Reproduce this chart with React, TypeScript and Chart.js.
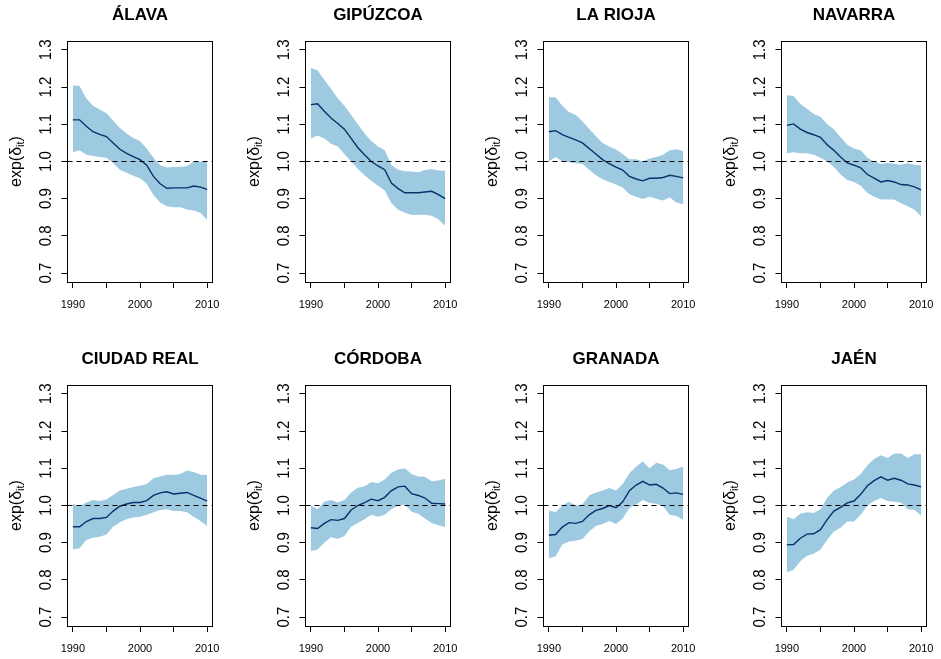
import React, { useEffect, useRef } from 'react';
import { Chart, registerables } from 'chart.js';

Chart.register(...registerables);

// ---------- data ----------
const years = [1990, 1991, 1992, 1993, 1994, 1995, 1996, 1997, 1998, 1999, 2000, 2001, 2002, 2003, 2004, 2005, 2006, 2007, 2008, 2009, 2010];
const xTicks = [1990, 1995, 2000, 2005, 2010];
const xLabelTicks = [1990, 2000, 2010];
const yTicks = [0.7, 0.8, 0.9, 1.0, 1.1, 1.2, 1.3];
const xLimits = [1989.2, 2010.8];
const yLimits = [0.676, 1.324];
const refValue = 1;

const alavaMean = [1.112, 1.112, 1.095, 1.08, 1.073, 1.067, 1.05, 1.033, 1.022, 1.013, 1.005, 0.99, 0.96, 0.94, 0.928, 0.929, 0.929, 0.929, 0.934, 0.931, 0.925];
const alavaHigh = [1.205, 1.203, 1.17, 1.15, 1.14, 1.13, 1.11, 1.09, 1.075, 1.063, 1.055, 1.035, 1.01, 0.99, 0.984, 0.985, 0.986, 0.987, 1.0, 1.0, 0.998];
const alavaLow = [1.025, 1.03, 1.018, 1.015, 1.012, 1.01, 0.995, 0.978, 0.97, 0.962, 0.955, 0.94, 0.91, 0.89, 0.88, 0.877, 0.877, 0.871, 0.868, 0.862, 0.843];

const gipuzcoaMean = [1.153, 1.155, 1.135, 1.117, 1.102, 1.087, 1.062, 1.037, 1.018, 1.0, 0.988, 0.978, 0.942, 0.927, 0.916, 0.916, 0.916, 0.918, 0.92, 0.911, 0.9];
const gipuzcoaHigh = [1.252, 1.245, 1.22, 1.195, 1.17, 1.15, 1.125, 1.1, 1.075, 1.055, 1.04, 1.03, 0.99, 0.978, 0.974, 0.973, 0.971, 0.977, 0.98, 0.976, 0.975];
const gipuzcoaLow = [1.062, 1.07, 1.062, 1.048, 1.04, 1.02, 1.0, 0.98, 0.963, 0.948, 0.935, 0.922, 0.888, 0.87, 0.862, 0.856, 0.857, 0.857, 0.854, 0.845, 0.827];

const riojaMean = [1.08, 1.083, 1.072, 1.065, 1.058, 1.05, 1.035, 1.02, 1.005, 0.994, 0.985, 0.977, 0.96, 0.953, 0.948, 0.955, 0.955, 0.957, 0.963, 0.96, 0.956];
const riojaHigh = [1.173, 1.173, 1.15, 1.133, 1.125, 1.108, 1.088, 1.068, 1.05, 1.04, 1.032, 1.02, 1.006, 1.006, 1.0, 1.008, 1.012, 1.018, 1.03, 1.033, 1.028];
const riojaLow = [1.0, 1.012, 1.0, 0.998, 0.995, 0.993, 0.978, 0.963, 0.952, 0.945, 0.938, 0.93, 0.912, 0.905, 0.899, 0.905, 0.9, 0.895, 0.903, 0.89, 0.885];

const navarraMean = [1.097, 1.101, 1.087, 1.078, 1.072, 1.065, 1.045, 1.03, 1.012, 0.996, 0.99, 0.983, 0.965, 0.955, 0.945, 0.949, 0.945, 0.938, 0.937, 0.932, 0.924];
const navarraHigh = [1.178, 1.176, 1.155, 1.142, 1.128, 1.12, 1.1, 1.087, 1.065, 1.045, 1.035, 1.03, 1.01, 1.0, 0.993, 0.996, 0.994, 0.991, 0.995, 0.991, 0.99];
const navarraLow = [1.022, 1.025, 1.022, 1.022, 1.018, 1.01, 1.0, 0.985, 0.965, 0.95, 0.945, 0.935, 0.915, 0.905, 0.898, 0.898, 0.898, 0.888, 0.88, 0.87, 0.853];

const ciudadRealMean = [0.943, 0.943, 0.957, 0.965, 0.965, 0.968, 0.985, 0.998, 1.004, 1.008, 1.008, 1.013, 1.027, 1.034, 1.037, 1.031, 1.033, 1.035, 1.027, 1.02, 1.012];
const ciudadRealHigh = [1.005, 0.998, 1.008, 1.015, 1.012, 1.016, 1.028, 1.04, 1.045, 1.05, 1.053, 1.058, 1.073, 1.078, 1.083, 1.082, 1.085, 1.094, 1.09, 1.083, 1.082];
const ciudadRealLow = [0.882, 0.885, 0.907, 0.913, 0.916, 0.922, 0.943, 0.955, 0.963, 0.968, 0.97, 0.975, 0.982, 0.988, 0.99, 0.985, 0.985, 0.982, 0.97, 0.958, 0.945];

const cordobaMean = [0.94, 0.938, 0.952, 0.962, 0.96, 0.965, 0.988, 1.0, 1.008, 1.017, 1.013, 1.022, 1.04, 1.05, 1.052, 1.032, 1.027, 1.02, 1.006, 1.005, 1.004];
const cordobaHigh = [1.0, 0.99, 1.01, 1.015, 1.008, 1.015, 1.035, 1.048, 1.052, 1.063, 1.06, 1.07, 1.088, 1.097, 1.1, 1.085, 1.078, 1.077, 1.065, 1.067, 1.072];
const cordobaLow = [0.877, 0.882, 0.9, 0.915, 0.91, 0.918, 0.943, 0.953, 0.963, 0.975, 0.97, 0.975, 0.99, 1.0, 1.003, 0.983, 0.978, 0.965, 0.953, 0.947, 0.942];

const granadaMean = [0.92, 0.922, 0.942, 0.954, 0.952, 0.957, 0.975, 0.987, 0.992, 1.0, 0.994, 1.01, 1.04, 1.055, 1.065, 1.055, 1.057, 1.047, 1.032, 1.034, 1.03];
const granadaHigh = [0.987, 0.982, 1.0, 1.01, 1.0, 1.003, 1.027, 1.035, 1.04, 1.047, 1.04, 1.058, 1.087, 1.105, 1.118, 1.1, 1.115, 1.11, 1.095, 1.098, 1.105];
const granadaLow = [0.858, 0.863, 0.895, 0.903, 0.905, 0.91, 0.93, 0.945, 0.95, 0.958, 0.95, 0.965, 0.993, 1.003, 1.015, 1.007, 1.005, 0.998, 0.975, 0.972, 0.962];

const jaenMean = [0.894, 0.895, 0.912, 0.923, 0.924, 0.935, 0.962, 0.985, 0.995, 1.007, 1.012, 1.03, 1.053, 1.067, 1.077, 1.068, 1.073, 1.068, 1.058, 1.055, 1.05];
const jaenHigh = [0.97, 0.963, 0.978, 0.982, 0.98, 0.99, 1.02, 1.04, 1.05, 1.062, 1.07, 1.085, 1.108, 1.125, 1.135, 1.128, 1.14, 1.14, 1.128, 1.138, 1.138];
const jaenLow = [0.82, 0.827, 0.85, 0.865, 0.87, 0.882, 0.907, 0.93, 0.94, 0.957, 0.957, 0.975, 1.0, 1.012, 1.02, 1.012, 1.01, 1.008, 0.99, 0.988, 0.973];

const regionNames = ['ÁLAVA', 'GIPÚZCOA', 'LA RIOJA', 'NAVARRA', 'CIUDAD REAL', 'CÓRDOBA', 'GRANADA', 'JAÉN'];
const regionMeans = [alavaMean, gipuzcoaMean, riojaMean, navarraMean, ciudadRealMean, cordobaMean, granadaMean, jaenMean];
const regionHighs = [alavaHigh, gipuzcoaHigh, riojaHigh, navarraHigh, ciudadRealHigh, cordobaHigh, granadaHigh, jaenHigh];
const regionLows = [alavaLow, gipuzcoaLow, riojaLow, navarraLow, ciudadRealLow, cordobaLow, granadaLow, jaenLow];

// ---------- styling ----------
const FONT = "'Liberation Sans', Arial, Helvetica, sans-serif";
const BAND = '#9ECAE1';
const LINE = '#08306B';
const CW = 237;
const CH = 315;
const PLOT_LEFT = 67.5;
const PLOT_W = 145;
const PLOT_TOP = 41;
const PLOT_BOTTOM = 282;

const decorPlugin = {
  id: 'panelDecor',
  afterDraw(chart: any) {
    const { ctx, chartArea: a, scales } = chart;
    const l = Math.floor(a.left) + 0.5;
    const r = Math.floor(a.right) + 0.5;
    const t = Math.floor(a.top) + 0.5;
    const b = Math.floor(a.bottom) + 0.5;
    ctx.save();
    ctx.strokeStyle = '#000';
    ctx.lineWidth = 1;
    ctx.setLineDash([]);
    ctx.strokeRect(l, t, r - l, b - t);

    // rotated y tick labels
    const ys = scales.y;
    ctx.fillStyle = '#000';
    ctx.font = `15px ${FONT}`;
    ctx.textAlign = 'center';
    ctx.textBaseline = 'middle';
    for (const v of yTicks) {
      const py = ys.getPixelForValue(v);
      ctx.save();
      ctx.translate(a.left - 21, py);
      ctx.rotate(-Math.PI / 2);
      ctx.scale(1, 1.1);
      ctx.fillText(v.toFixed(1), 0, 0);
      ctx.restore();
    }

    // y axis title exp(δ_it)
    const cy = (a.top + a.bottom) / 2;
    ctx.save();
    ctx.translate(a.left - 51, cy);
    ctx.rotate(-Math.PI / 2);
    ctx.textAlign = 'left';
    ctx.textBaseline = 'alphabetic';
    const mainFont = `16px ${FONT}`;
    const subFont = `11px ${FONT}`;
    ctx.font = mainFont;
    const w1 = ctx.measureText('exp(δ').width;
    const w3 = ctx.measureText(')').width;
    ctx.font = subFont;
    const w2 = ctx.measureText('it').width;
    const start = -(w1 + w2 + w3) / 2;
    ctx.font = mainFont;
    ctx.fillText('exp(δ', start, 4);
    ctx.font = subFont;
    ctx.fillText('it', start + w1, 7);
    ctx.font = mainFont;
    ctx.fillText(')', start + w1 + w2, 4);
    ctx.restore();
    ctx.restore();
  },
};

type PanelProps = { index: number; left: number; top: number };

function Panel({ index, left, top }: PanelProps) {
  const ref = useRef<HTMLCanvasElement>(null);
  useEffect(() => {
    const mean = regionMeans[index];
    const high = regionHighs[index];
    const low = regionLows[index];
    const gridOpts = {
      drawOnChartArea: false,
      drawTicks: true,
      tickLength: 6,
      color: '#000',
      lineWidth: 1,
    };
    const chart = new Chart(ref.current as HTMLCanvasElement, {
      type: 'line',
      data: {
        datasets: [
          {
            label: 'ref',
            data: [
              { x: xLimits[0], y: refValue },
              { x: xLimits[1], y: refValue },
            ],
            borderColor: '#000',
            borderWidth: 1,
            borderDash: [5, 4],
            pointRadius: 0,
            fill: false,
          },
          {
            label: 'mean',
            data: years.map((x, i) => ({ x, y: mean[i] })),
            borderColor: LINE,
            borderWidth: 1.4,
            pointRadius: 0,
            tension: 0,
            fill: false,
          },
          {
            label: 'high',
            data: years.map((x, i) => ({ x, y: high[i] })),
            borderColor: 'rgba(0,0,0,0)',
            borderWidth: 0,
            backgroundColor: BAND,
            pointRadius: 0,
            fill: '+1',
          },
          {
            label: 'low',
            data: years.map((x, i) => ({ x, y: low[i] })),
            borderColor: 'rgba(0,0,0,0)',
            borderWidth: 0,
            pointRadius: 0,
            fill: false,
          },
        ],
      } as any,
      options: {
        responsive: false,
        maintainAspectRatio: false,
        animation: false,
        layout: { padding: { left: 0, right: CW - PLOT_LEFT - PLOT_W, top: 0, bottom: 0 } },
        plugins: {
          legend: { display: false },
          tooltip: { enabled: false },
          title: {
            display: true,
            text: regionNames[index],
            fullSize: false,
            color: '#000',
            font: { family: FONT, size: 17, weight: 'bold' },
            padding: { top: 5, bottom: PLOT_TOP - 5 - 17 * 1.2 },
          },
        },
        scales: {
          x: {
            type: 'linear',
            min: xLimits[0],
            max: xLimits[1],
            afterBuildTicks: (s: any) => {
              s.ticks = xTicks.map((v) => ({ value: v }));
            },
            afterFit: (s: any) => {
              s.height = CH - PLOT_BOTTOM;
            },
            ticks: {
              autoSkip: false,
              maxRotation: 0,
              minRotation: 0,
              padding: 10,
              color: '#000',
              font: { family: FONT, size: 11 },
              callback: (v: any) => (xLabelTicks.includes(Number(v)) ? String(v) : ''),
            },
            grid: gridOpts,
            border: { display: false },
          },
          y: {
            type: 'linear',
            min: yLimits[0],
            max: yLimits[1],
            afterBuildTicks: (s: any) => {
              s.ticks = yTicks.map((v) => ({ value: v }));
            },
            afterFit: (s: any) => {
              s.width = PLOT_LEFT;
            },
            ticks: { display: false },
            grid: gridOpts,
            border: { display: false },
          },
        },
      } as any,
      plugins: [decorPlugin],
    });
    return () => chart.destroy();
  }, [index]);
  return (
    <canvas
      ref={ref}
      width={CW}
      height={CH}
      style={{ position: 'absolute', left, top, width: CW, height: CH }}
    />
  );
}

export default function App() {
  return (
    <div style={{ position: 'absolute', left: 0, top: 0, width: 941, height: 659, background: '#fff', overflow: 'hidden' }}>
      {regionNames.map((name, i) => (
        <Panel key={name} index={i} left={Math.round((i % 4) * 237.9)} top={i < 4 ? 0 : 344} />
      ))}
    </div>
  );
}
